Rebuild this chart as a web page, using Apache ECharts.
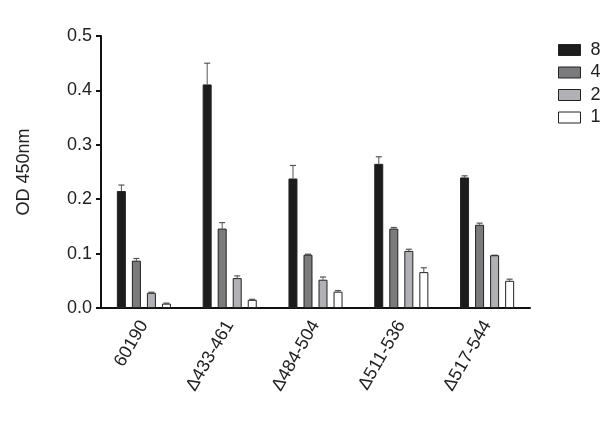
<!DOCTYPE html>
<html>
<head>
<meta charset="utf-8">
<script src="https://cdn.jsdelivr.net/npm/echarts@6/dist/echarts.min.js"></script>
<style>
  html, body { margin: 0; padding: 0; background: #fff; }
  #main { width: 600px; height: 436px; }
</style>
</head>
<body>
<div id="main"></div>
<script>
const categories = ['60190', 'Δ433-461', 'Δ484-504', 'Δ511-536', 'Δ517-544'];
const seriesNames = ['8', '4', '2', '1'];

// mean values per dilution
const val8 = [0.215, 0.411, 0.238, 0.265, 0.240];
const val4 = [0.087, 0.146, 0.098, 0.146, 0.153];
const val2 = [0.028, 0.055, 0.052, 0.105, 0.097];
const val1 = [0.008, 0.015, 0.030, 0.066, 0.050];

// upper error bar end
const err8 = [0.226, 0.450, 0.262, 0.278, 0.243];
const err4 = [0.091, 0.157, 0.099, 0.148, 0.156];
const err2 = [0.029, 0.059, 0.057, 0.108, 0.097];
const err1 = [0.009, 0.016, 0.032, 0.074, 0.053];

const colors = ['#1c1c1c', '#7b7b7d', '#b1b1b5', '#ffffff'];
const values = [val8, val4, val2, val1];
const errors = [err8, err4, err2, err1];

const barW = 9;
const step = 15; // bar width + gap

const chart = echarts.init(document.getElementById('main'));

const series = [];
values.forEach(function (v, i) {
    series.push({
        name: seriesNames[i],
        type: 'bar',
        data: v,
        barWidth: barW,
        barGap: '67%',
        itemStyle: { color: colors[i], borderColor: '#222', borderWidth: 1 }
    });
});
errors.forEach(function (e, i) {
    const off = (i - 1.5) * step;
    series.push({
        type: 'custom',
        silent: true,
        data: e.map(function (hi, k) { return [k, values[i][k], hi]; }),
        renderItem: function (params, api) {
            const lo = api.coord([api.value(0), api.value(1)]);
            const hi = api.coord([api.value(0), api.value(2)]);
            const x = lo[0] + off;
            return {
                type: 'group',
                children: [
                    { type: 'line', shape: { x1: x, y1: lo[1], x2: x, y2: hi[1] }, style: { stroke: '#555', lineWidth: 1 } },
                    { type: 'line', shape: { x1: x - 3, y1: hi[1], x2: x + 3, y2: hi[1] }, style: { stroke: '#555', lineWidth: 1.2 } }
                ]
            };
        },
        z: 1
    });
});

const option = {
    animation: false,
    textStyle: { fontFamily: '"Liberation Sans", Arial, sans-serif' },
    grid: { left: 101, right: 70, top: 36, bottom: 128 },
    legend: {
        data: seriesNames,
        orient: 'vertical',
        left: 553,
        top: 36,
        itemWidth: 22,
        itemHeight: 11,
        itemGap: 4.5,
        icon: 'rect',
        textStyle: { fontSize: 18, color: '#222', padding: [0, 0, 0, 5] },
        itemStyle: { borderColor: '#222', borderWidth: 1 }
    },
    xAxis: {
        type: 'category',
        data: categories,
        axisLine: { lineStyle: { color: '#111', width: 2 } },
        axisTick: { alignWithLabel: true, length: 5, lineStyle: { color: '#111', width: 2 } },
        axisLabel: { rotate: 60, fontSize: 18, color: '#222', margin: 14 }
    },
    yAxis: {
        type: 'value',
        min: 0,
        max: 0.5,
        interval: 0.1,
        name: 'OD 450nm',
        nameLocation: 'middle',
        nameGap: 68,
        nameTextStyle: { fontSize: 18, color: '#222' },
        splitLine: { show: false },
        axisLine: { show: true, lineStyle: { color: '#111', width: 2 } },
        axisTick: { show: true, length: 5, lineStyle: { color: '#111', width: 2 } },
        axisLabel: { fontSize: 18, color: '#222', margin: 9, formatter: function (v) { return v.toFixed(1); } }
    },
    series: series
};

chart.setOption(option);
</script>
</body>
</html>
